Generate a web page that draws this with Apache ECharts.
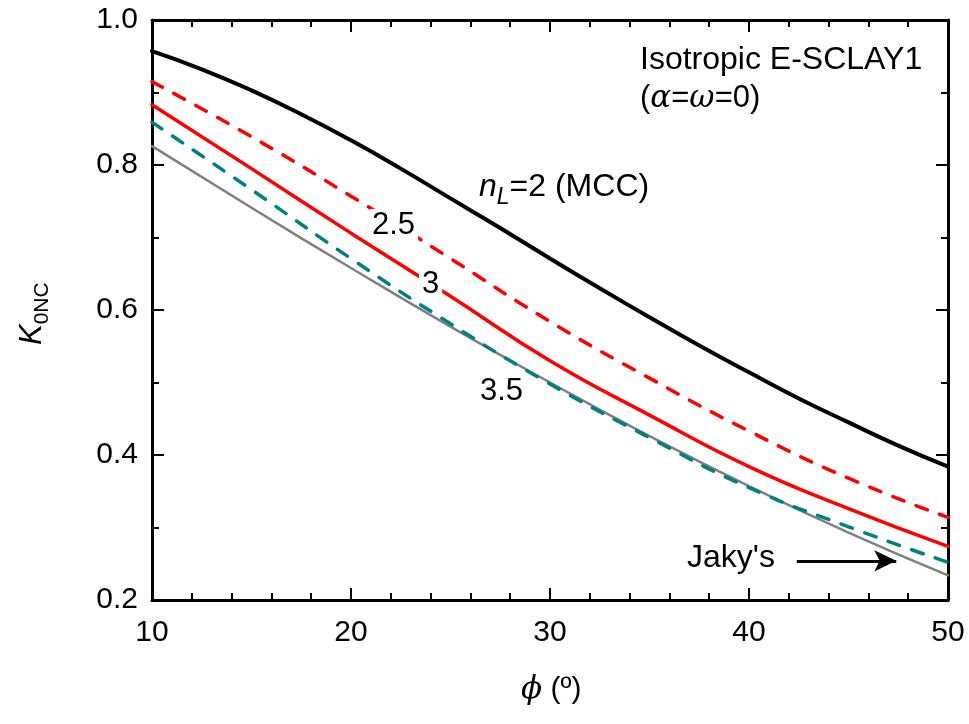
<!DOCTYPE html>
<html>
<head>
<meta charset="utf-8">
<script src="https://cdn.jsdelivr.net/npm/echarts@6/dist/echarts.min.js"></script>
<style>
html,body{margin:0;padding:0;background:#fff;}
#chart{width:969px;height:724px;}
</style>
</head>
<body>
<div id="chart"></div>
<script>
// Friction angle (deg)
var phi = [10, 15, 20, 25, 30, 35, 40, 45, 50];
var phiFine = [10, 12.5, 15, 17.5, 20, 22.5, 25, 27.5, 30, 32.5, 35, 37.5, 40, 42.5, 45, 47.5, 50];
// K0NC for each nL
var k_nL2  = [0.957, 0.932, 0.903, 0.870, 0.834, 0.795, 0.754, 0.713, 0.671, 0.630, 0.590, 0.551, 0.514, 0.478, 0.445, 0.413, 0.384];
var k_nL25 = [0.915, 0.839, 0.757, 0.671, 0.584, 0.506, 0.433, 0.368, 0.314];
var k_nL3  = [0.883, 0.795, 0.706, 0.619, 0.530, 0.455, 0.384, 0.326, 0.274];
var k_nL35 = [0.859, 0.766, 0.671, 0.581, 0.498, 0.424, 0.355, 0.301, 0.252];
var k_jaky = [0.826, 0.741, 0.658, 0.577, 0.500, 0.426, 0.357, 0.293, 0.234];
// Arrow pointing at Jaky's line
var arrowFrom = [42.4, 0.254];
var arrowTo = [47.4, 0.254];

function pairs(xs, ys) { return xs.map(function (x, i) { return [x, ys[i]]; }); }

var FONT = 'Liberation Sans, Arial, sans-serif';
var chart = echarts.init(document.getElementById('chart'));

function axisCommon(pos, showLabel) {
  return {
    axisLine: { show: true, onZero: false, lineStyle: { color: '#000', width: 3 } },
    axisTick: { show: true, inside: true, length: 12, lineStyle: { color: '#000', width: 2 } },
    minorTick: { show: true, length: 7, lineStyle: { color: '#000', width: 2 } },
    splitLine: { show: false },
    minorSplitLine: { show: false },
    position: pos,
    axisLabel: { show: showLabel, color: '#000', fontSize: 30, fontFamily: FONT }
  };
}

var xBottom = Object.assign(axisCommon('bottom', true), { type: 'value', min: 10, max: 50, interval: 10 });
xBottom.minorTick.splitNumber = 5;
xBottom.axisLabel.margin = 18;
var xTop = Object.assign(axisCommon('top', false), { type: 'value', min: 10, max: 50, interval: 10 });
xTop.minorTick.splitNumber = 5;
var yLeft = Object.assign(axisCommon('left', true), { type: 'value', min: 0.2, max: 1.0, interval: 0.2 });
yLeft.minorTick.splitNumber = 2;
yLeft.axisLabel.margin = 14;
yLeft.axisLabel.formatter = function (v) { return v.toFixed(1); };
var yRight = Object.assign(axisCommon('right', false), { type: 'value', min: 0.2, max: 1.0, interval: 0.2 });
yRight.minorTick.splitNumber = 2;

function lineSeries(data, color, width, dashed, z) {
  return {
    type: 'line', data: data, xAxisIndex: 0, yAxisIndex: 0,
    showSymbol: false, smooth: 0.5, z: z, silent: true,
    lineStyle: { color: color, width: width, type: dashed ? [12, 13] : 'solid', cap: 'round' }
  };
}

var option = {
  backgroundColor: '#fff',
  animation: false,
  grid: { left: 152, right: 21, top: 20, bottom: 124, containLabel: false },
  xAxis: [xBottom, xTop],
  yAxis: [yLeft, yRight],
  series: [
    lineSeries(pairs(phi, k_jaky), '#808080', 2.5, false, 2),
    lineSeries(pairs(phi, k_nL35), '#008080', 3.5, true, 3),
    lineSeries(pairs(phi, k_nL3), '#ff0000', 3.5, false, 4),
    lineSeries(pairs(phi, k_nL25), '#ff0000', 3.5, true, 5),
    lineSeries(pairs(phiFine, k_nL2), '#000000', 4, false, 6),
    {
      type: 'line', data: [], silent: true,
      markLine: {
        silent: true, symbol: ['none', 'arrow'], symbolSize: [16, 22], label: { show: false },
        lineStyle: { color: '#000', width: 3, type: 'solid' },
        data: [[{ coord: arrowFrom }, { coord: arrowTo }]]
      }
    }
  ],
  graphic: [
    { type: 'text', left: 640, top: 44, z: 100, style: { text: 'Isotropic E-SCLAY1', fill: '#000', font: '32px ' + FONT } },
    { type: 'text', left: 640, top: 83, z: 100, style: {
      text: '{n|(}{g|\u03b1}{n|=}{g|\u03c9}{n|=0)}', fill: '#000',
      rich: { n: { fontSize: 31, fontFamily: FONT, fill: '#000' }, g: { fontSize: 31, fontFamily: 'DejaVu Serif, serif', fontStyle: 'italic', fill: '#000' } } } },
    { type: 'text', left: 479, top: 171, z: 100, style: {
      text: '{i|n}{s|L}{n|=2 (MCC)}', fill: '#000',
      rich: { n: { fontSize: 32, fontFamily: FONT, fill: '#000' },
              i: { fontSize: 32, fontFamily: FONT, fontStyle: 'italic', fill: '#000' },
              s: { fontSize: 23, fontFamily: FONT, fontStyle: 'italic', fill: '#000', padding: [22, 0, 0, 0] } } } },
    { type: 'text', left: 370, top: 209, z: 100, style: { text: '2.5', fill: '#000', font: '31px ' + FONT, backgroundColor: '#fff', padding: [1, 3, 1, 2] } },
    { type: 'text', left: 419, top: 268, z: 100, style: { text: '3', fill: '#000', font: '31px ' + FONT, backgroundColor: '#fff', padding: [1, 3, 1, 3] } },
    { type: 'text', left: 478, top: 375, z: 100, style: { text: '3.5', fill: '#000', font: '31px ' + FONT, backgroundColor: '#fff', padding: [1, 2, 1, 2] } },
    { type: 'text', left: 687, top: 542, z: 100, style: { text: "Jaky's", fill: '#000', font: '32px ' + FONT } },
    { type: 'text', left: 521, top: 674, z: 100, style: {
      text: '{g|\u03d5}{n| (\u00ba)}', fill: '#000',
      rich: { n: { fontSize: 30, fontFamily: FONT, fill: '#000' }, g: { fontSize: 31, fontFamily: 'DejaVu Serif, serif', fontStyle: 'italic', fill: '#000' } } } },
    { type: 'text', x: 12, y: 345, rotation: Math.PI / 2, z: 100, style: {
      text: '{i|K}{s|0NC}', fill: '#000', textAlign: 'left', textVerticalAlign: 'top',
      rich: { i: { fontSize: 31, fontFamily: FONT, fontStyle: 'italic', fill: '#000' },
              s: { fontSize: 21, fontFamily: FONT, fill: '#000', padding: [20, 0, 0, 0] } } } }
  ]
};
chart.setOption(option);
</script>
</body>
</html>
